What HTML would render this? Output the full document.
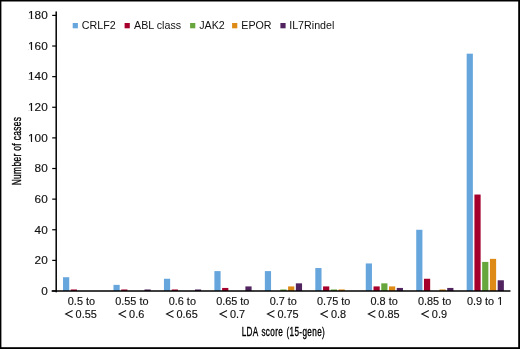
<!DOCTYPE html>
<html><head><meta charset="utf-8"><style>
html,body{margin:0;padding:0;background:#fff;}
.wrap{position:relative;width:520px;height:349px;box-sizing:border-box;overflow:hidden;}
svg{position:absolute;left:0;top:0;will-change:transform;}
.t{font-family:"Liberation Sans",sans-serif;font-size:10.9px;fill:#111;stroke:#111;stroke-width:0.15px;}
.l{font-family:"Liberation Sans",sans-serif;font-size:10.7px;fill:#111;}
.c{font-family:"Liberation Sans",sans-serif;font-size:12.0px;fill:#000;stroke:#000;stroke-width:0.35px;}
</style></head><body><div class="wrap">
<svg width="520" height="349" viewBox="0 0 520 349">
<rect x="63.03" y="277.22" width="6.2" height="13.78" fill="#66a6dd"/>
<rect x="70.78" y="289.47" width="6.2" height="1.53" fill="#a6002d"/>
<rect x="113.48" y="284.88" width="6.2" height="6.12" fill="#66a6dd"/>
<rect x="121.23" y="289.47" width="6.2" height="1.53" fill="#a6002d"/>
<rect x="144.48" y="289.47" width="6.2" height="1.53" fill="#512460"/>
<rect x="163.94" y="278.75" width="6.2" height="12.25" fill="#66a6dd"/>
<rect x="171.69" y="289.47" width="6.2" height="1.53" fill="#a6002d"/>
<rect x="194.94" y="289.47" width="6.2" height="1.53" fill="#512460"/>
<rect x="214.39" y="271.10" width="6.2" height="19.90" fill="#66a6dd"/>
<rect x="222.14" y="287.94" width="6.2" height="3.06" fill="#a6002d"/>
<rect x="245.39" y="286.41" width="6.2" height="4.59" fill="#512460"/>
<rect x="264.85" y="271.10" width="6.2" height="19.90" fill="#66a6dd"/>
<rect x="280.35" y="289.47" width="6.2" height="1.53" fill="#67a63c"/>
<rect x="288.10" y="286.41" width="6.2" height="4.59" fill="#dd8a16"/>
<rect x="295.85" y="283.34" width="6.2" height="7.66" fill="#512460"/>
<rect x="315.31" y="268.03" width="6.2" height="22.97" fill="#66a6dd"/>
<rect x="323.06" y="286.41" width="6.2" height="4.59" fill="#a6002d"/>
<rect x="330.81" y="289.47" width="6.2" height="1.53" fill="#67a63c"/>
<rect x="338.56" y="289.47" width="6.2" height="1.53" fill="#dd8a16"/>
<rect x="365.76" y="263.44" width="6.2" height="27.56" fill="#66a6dd"/>
<rect x="373.51" y="286.41" width="6.2" height="4.59" fill="#a6002d"/>
<rect x="381.26" y="283.34" width="6.2" height="7.66" fill="#67a63c"/>
<rect x="389.01" y="286.41" width="6.2" height="4.59" fill="#dd8a16"/>
<rect x="396.76" y="287.94" width="6.2" height="3.06" fill="#512460"/>
<rect x="416.22" y="229.76" width="6.2" height="61.24" fill="#66a6dd"/>
<rect x="423.97" y="278.75" width="6.2" height="12.25" fill="#a6002d"/>
<rect x="439.47" y="289.47" width="6.2" height="1.53" fill="#dd8a16"/>
<rect x="447.22" y="287.94" width="6.2" height="3.06" fill="#512460"/>
<rect x="466.67" y="53.68" width="6.2" height="237.32" fill="#66a6dd"/>
<rect x="474.42" y="194.54" width="6.2" height="96.46" fill="#a6002d"/>
<rect x="482.17" y="261.91" width="6.2" height="29.09" fill="#67a63c"/>
<rect x="489.92" y="258.85" width="6.2" height="32.15" fill="#dd8a16"/>
<rect x="497.67" y="280.28" width="6.2" height="10.72" fill="#512460"/>
<line x1="56.20" y1="12.1" x2="56.20" y2="291.75" stroke="#000" stroke-width="1.5" stroke-linecap="round"/>
<line x1="52.2" y1="291.05" x2="509.90" y2="291.05" stroke="#000" stroke-width="1.55" stroke-linecap="round"/>
<line x1="52.2" y1="291.00" x2="56.20" y2="291.00" stroke="#000" stroke-width="1.2"/>
<text transform="translate(47.7,294.85) scale(1.08,1)" text-anchor="end" class="t">0</text>
<line x1="52.2" y1="260.38" x2="56.20" y2="260.38" stroke="#000" stroke-width="1.2"/>
<text transform="translate(47.7,264.23) scale(1.08,1)" text-anchor="end" class="t">20</text>
<line x1="52.2" y1="229.76" x2="56.20" y2="229.76" stroke="#000" stroke-width="1.2"/>
<text transform="translate(47.7,233.61) scale(1.08,1)" text-anchor="end" class="t">40</text>
<line x1="52.2" y1="199.13" x2="56.20" y2="199.13" stroke="#000" stroke-width="1.2"/>
<text transform="translate(47.7,202.98) scale(1.08,1)" text-anchor="end" class="t">60</text>
<line x1="52.2" y1="168.51" x2="56.20" y2="168.51" stroke="#000" stroke-width="1.2"/>
<text transform="translate(47.7,172.36) scale(1.08,1)" text-anchor="end" class="t">80</text>
<line x1="52.2" y1="137.89" x2="56.20" y2="137.89" stroke="#000" stroke-width="1.2"/>
<text transform="translate(47.7,141.74) scale(1.08,1)" text-anchor="end" class="t">100</text>
<rect x="28.42" y="140.74" width="2.53" height="1.6" fill="#fff"/>
<rect x="32.13" y="140.74" width="2.24" height="1.6" fill="#fff"/>
<line x1="52.2" y1="107.27" x2="56.20" y2="107.27" stroke="#000" stroke-width="1.2"/>
<text transform="translate(47.7,111.12) scale(1.08,1)" text-anchor="end" class="t">120</text>
<rect x="28.42" y="110.12" width="2.53" height="1.6" fill="#fff"/>
<rect x="32.13" y="110.12" width="2.24" height="1.6" fill="#fff"/>
<line x1="52.2" y1="76.64" x2="56.20" y2="76.64" stroke="#000" stroke-width="1.2"/>
<text transform="translate(47.7,80.49) scale(1.08,1)" text-anchor="end" class="t">140</text>
<rect x="28.42" y="79.49" width="2.53" height="1.6" fill="#fff"/>
<rect x="32.13" y="79.49" width="2.24" height="1.6" fill="#fff"/>
<line x1="52.2" y1="46.02" x2="56.20" y2="46.02" stroke="#000" stroke-width="1.2"/>
<text transform="translate(47.7,49.87) scale(1.08,1)" text-anchor="end" class="t">160</text>
<rect x="28.42" y="48.87" width="2.53" height="1.6" fill="#fff"/>
<rect x="32.13" y="48.87" width="2.24" height="1.6" fill="#fff"/>
<line x1="52.2" y1="15.40" x2="56.20" y2="15.40" stroke="#000" stroke-width="1.2"/>
<text transform="translate(47.7,19.25) scale(1.08,1)" text-anchor="end" class="t">180</text>
<rect x="28.42" y="18.25" width="2.53" height="1.6" fill="#fff"/>
<rect x="32.13" y="18.25" width="2.24" height="1.6" fill="#fff"/>
<text x="81.43" y="304.8" text-anchor="middle" class="t">0.5 to</text>
<path d="M72.62 310.50 L65.62 314.00 L72.62 317.50" fill="none" stroke="#111" stroke-width="1.05"/>
<text x="75.62" y="318" class="t">0.55</text>
<text x="131.88" y="304.8" text-anchor="middle" class="t">0.55 to</text>
<path d="M126.11 310.50 L119.11 314.00 L126.11 317.50" fill="none" stroke="#111" stroke-width="1.05"/>
<text x="129.11" y="318" class="t">0.6</text>
<text x="182.34" y="304.8" text-anchor="middle" class="t">0.6 to</text>
<path d="M173.53 310.50 L166.53 314.00 L173.53 317.50" fill="none" stroke="#111" stroke-width="1.05"/>
<text x="176.53" y="318" class="t">0.65</text>
<text x="232.79" y="304.8" text-anchor="middle" class="t">0.65 to</text>
<path d="M227.02 310.50 L220.02 314.00 L227.02 317.50" fill="none" stroke="#111" stroke-width="1.05"/>
<text x="230.02" y="318" class="t">0.7</text>
<text x="283.25" y="304.8" text-anchor="middle" class="t">0.7 to</text>
<path d="M274.44 310.50 L267.44 314.00 L274.44 317.50" fill="none" stroke="#111" stroke-width="1.05"/>
<text x="277.44" y="318" class="t">0.75</text>
<text x="333.71" y="304.8" text-anchor="middle" class="t">0.75 to</text>
<path d="M327.93 310.50 L320.93 314.00 L327.93 317.50" fill="none" stroke="#111" stroke-width="1.05"/>
<text x="330.93" y="318" class="t">0.8</text>
<text x="384.16" y="304.8" text-anchor="middle" class="t">0.8 to</text>
<path d="M375.35 310.50 L368.35 314.00 L375.35 317.50" fill="none" stroke="#111" stroke-width="1.05"/>
<text x="378.35" y="318" class="t">0.85</text>
<text x="434.62" y="304.8" text-anchor="middle" class="t">0.85 to</text>
<path d="M428.84 310.50 L421.84 314.00 L428.84 317.50" fill="none" stroke="#111" stroke-width="1.05"/>
<text x="431.84" y="318" class="t">0.9</text>
<text x="485.07" y="304.8" text-anchor="middle" class="t">0.9 to 1</text>
<rect x="497.52" y="303.80" width="2.34" height="1.6" fill="#fff"/>
<rect x="500.95" y="303.80" width="2.07" height="1.6" fill="#fff"/>
<rect x="72.7" y="23.0" width="5.2" height="5.3" fill="#66a6dd"/>
<text x="81.80" y="29.1" class="l">CRLF2</text>
<rect x="124.6" y="23.0" width="5.2" height="5.3" fill="#a6002d"/>
<text x="134.00" y="29.1" class="l">ABL class</text>
<rect x="190.1" y="23.0" width="5.2" height="5.3" fill="#67a63c"/>
<text x="199.20" y="29.1" class="l">JAK2</text>
<rect x="232.1" y="23.0" width="5.2" height="5.3" fill="#dd8a16"/>
<text x="241.30" y="29.1" class="l">EPOR</text>
<rect x="280.4" y="23.0" width="5.2" height="5.3" fill="#512460"/>
<text x="289.20" y="29.1" class="l">IL7Rindel</text>
<text transform="translate(283.39,335.6) scale(0.6809,1)" text-anchor="middle" class="c" letter-spacing="0.55" word-spacing="0.8">LDA score (15-gene)</text>
<text transform="translate(21.2,151.01) rotate(-90) scale(0.6933,1)" text-anchor="middle" class="c" letter-spacing="0.55">Number of cases</text>
<rect x="0" y="0" width="520" height="1.5" fill="#000"/>
<rect x="0" y="0" width="1.4" height="349" fill="#000"/>
<rect x="518.2" y="0" width="1.8" height="349" fill="#000"/>
<rect x="0" y="347.2" width="520" height="1.8" fill="#000"/>
</svg></div></body></html>
